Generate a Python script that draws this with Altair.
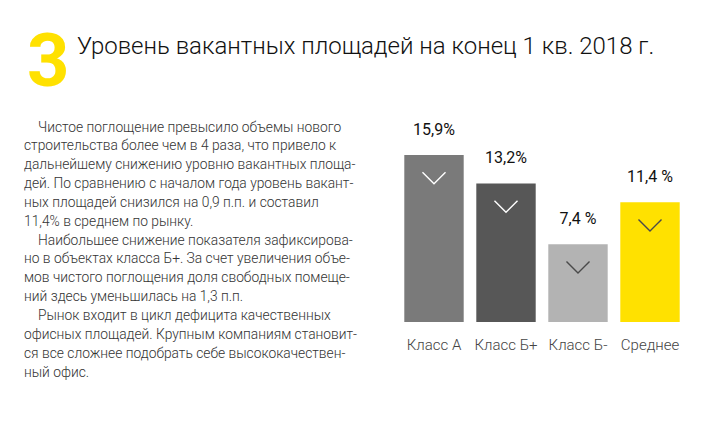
import altair as alt
import pandas as pd

categories = ["Класс А", "Класс Б+", "Класс Б-", "Среднее"]
values = [15.9, 13.2, 7.4, 11.4]
value_labels = ["15,9%", "13,2%", "7,4 %", "11,4 %"]

title_text = "Уровень вакантных площадей на конец 1 кв. 2018 г."
number_text = "3"
paragraph_lines = [
    "Чистое поглощение превысило объемы нового",
    "строительства более чем в 4 раза, что привело к",
    "дальнейшему снижению уровню вакантных площа-",
    "дей.  По сравнению с началом года уровень вакант-",
    "ных площадей снизился на  0,9 п.п. и составил",
    "11,4% в среднем по рынку.",
    "Наибольшее снижение показателя зафиксирова-",
    "но в объектах класса Б+. За счет увеличения объе-",
    "мов чистого поглощения доля свободных помеще-",
    "ний здесь уменьшилась на 1,3 п.п.",
    "Рынок входит в цикл дефицита качественных",
    "офисных площадей. Крупным компаниям становит-",
    "ся все сложнее подобрать себе высококачествен-",
    "ный офис.",
]
indented_lines = [0, 6, 10]

df = pd.DataFrame({"cat": categories, "value": values, "label": value_labels})

FONT = "Roboto"
bar_colors = ["#7a7a7a", "#575757", "#b3b3b3", "#ffe100"]
chev_colors = ["#ffffff", "#ffffff", "#4a4a4a", "#4a4a4a"]

x_enc = alt.X(
    "cat:N",
    sort=categories,
    scale=alt.Scale(paddingInner=0.175, paddingOuter=0.0875),
    axis=alt.Axis(
        title=None, ticks=False, domain=False, labelAngle=0,
        labelFont=FONT, labelFontSize=15, labelColor="#444444",
        labelPadding=15, labelFontWeight=300,
    ),
)
y_enc = alt.Y("value:Q", scale=alt.Scale(domain=[0, 20]), axis=None)

base = alt.Chart(df)

bars = base.mark_bar().encode(
    x=x_enc,
    y=y_enc,
    color=alt.Color("cat:N", scale=alt.Scale(domain=categories, range=bar_colors), legend=None),
)

labels = base.mark_text(
    font=FONT, fontSize=16, fontWeight=400, color="#111111",
    baseline="alphabetic", dy=-20,
).encode(x=x_enc, y=y_enc, text="label:N")

chevrons = base.mark_point(
    shape="M-1,-0.5L0,0.5L1,-0.5", filled=False, size=530,
    strokeWidth=1.4, opacity=1, yOffset=23,
).encode(
    x=x_enc,
    y=y_enc,
    stroke=alt.Stroke("cat:N", scale=alt.Scale(domain=categories, range=chev_colors), legend=None),
)

ann = alt.Chart(pd.DataFrame({"a": [0]}))

number = ann.mark_text(
    font=FONT, fontSize=74, fontWeight="bold", color="#ffe100",
    align="left", baseline="alphabetic",
).encode(x=alt.value(-371), y=alt.value(-26), text=alt.value(number_text))

title = ann.mark_text(
    font=FONT, fontSize=24, fontWeight=300, color="#111111",
    align="left", baseline="alphabetic",
).encode(x=alt.value(-321), y=alt.value(-58.5), text=alt.value(title_text))

para_layers = []
for i, line in enumerate(paragraph_lines):
    x0 = -360 if i in indented_lines else -374
    para_layers.append(
        ann.mark_text(
            font=FONT, fontSize=13.8, fontWeight=300, color="#333333",
            align="left", baseline="alphabetic",
        ).encode(x=alt.value(x0), y=alt.value(19.5 + i * 18.85), text=alt.value(line))
    )

chart = alt.layer(bars, chevrons, labels, number, title, *para_layers).properties(
    width=288,
    height=210,
    padding={"left": 398, "top": 112, "right": 42, "bottom": 99},
    autosize=alt.AutoSizeParams(type="none"),
    background="white",
).configure_view(stroke=None)

chart.save("out.html", embed_options={"renderer": "svg", "actions": False})
